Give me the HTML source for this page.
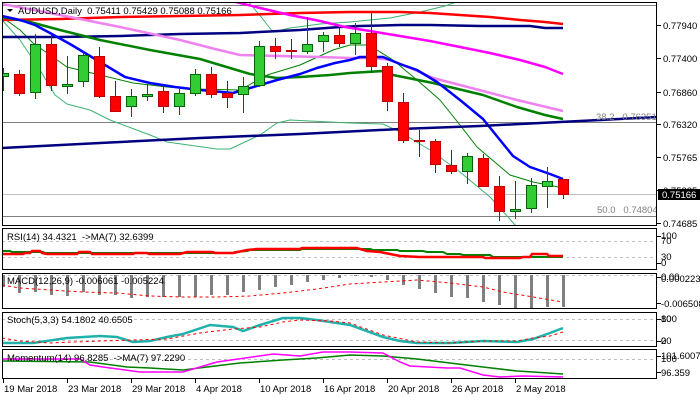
<!DOCTYPE html>
<html><head><meta charset="utf-8"><style>
html,body{margin:0;padding:0;background:#fff;}
svg{display:block;}
text{font-family:"Liberation Sans",sans-serif;font-size:9.5px;}
</style></head><body>
<svg width="700" height="400" viewBox="0 0 700 400" xmlns="http://www.w3.org/2000/svg">
<defs>
<clipPath id="cm"><rect x="2" y="2" width="655" height="224"/></clipPath>
<clipPath id="cr"><rect x="2" y="228" width="655" height="42"/></clipPath>
<clipPath id="cd"><rect x="2" y="273" width="655" height="36"/></clipPath>
<clipPath id="cs"><rect x="2" y="312" width="655" height="35"/></clipPath>
<clipPath id="co"><rect x="2" y="349" width="655" height="30"/></clipPath>
</defs>
<rect width="700" height="400" fill="#fff"/>

<!-- MAIN CHART -->
<g clip-path="url(#cm)">
<g shape-rendering="crispEdges">
<line x1="2" y1="5.5" x2="657" y2="5.5" stroke="#808080"/>
<line x1="2" y1="122.5" x2="657" y2="122.5" stroke="#808080"/>
<line x1="2" y1="194.5" x2="657" y2="194.5" stroke="#C0C0C0"/>
<line x1="2" y1="216.5" x2="657" y2="216.5" stroke="#808080"/>
</g>
<g fill="none" stroke-linejoin="round">
<polyline stroke="#3CB371" stroke-width="1" points="2,20 20,40 40,70 55,95 67,104 90,110 110,120 150,135 167,142 217,149 230,149 260,135 277,123 290,120 350,123 383,124 400,132 430,150 460,172 490,197 517,227"/>
<polyline stroke="#3CB371" stroke-width="1" points="247,0 262,18 273,32 290,28 320,24 350,22 390,18 420,12 445,6 462,0"/>
<polyline stroke="#008000" stroke-width="1" points="2,17 20,30 33,43 67,67 100,75 133,83 167,87 193,89 240,90 267,75 300,65 333,50 350,45 370,45 377,50 393,60 417,80 440,100 460,125 477,147 490,158 510,175 533,182 563,188"/>
<polyline stroke="#FF0000" stroke-width="2.5" points="2,20 60,19 120,17 180,16 240,15 300,13 350,12 400,12 430,13 460,15 490,17 520,20 545,22 563,24"/>
<polyline stroke="#000080" stroke-width="2.5" points="2,37 60,37 120,36 180,34 240,33 300,30 340,27 360,26 400,25 430,25 480,26 530,26 545,28 563,28"/>
<polyline stroke="#FF00FF" stroke-width="2.5" points="228,0 260,8 290,15 320,21 345,27 370,31 400,36 430,41 460,47 490,53 520,60 545,67 563,74"/>
<polyline stroke="#EE82EE" stroke-width="2.5" points="2,4 60,15 120,27 180,40 215,49 240,55 280,56 320,57 350,58 375,58 390,60 400,64 415,70 433,78 460,85 483,91 517,100 563,111"/>
<polyline stroke="#008000" stroke-width="2.5" points="2,17 30,22 60,30 100,40 150,50 200,59 230,68 250,74 277,78 300,77 330,75 350,73 383,71 393,75 433,83 483,95 517,107 545,115 563,119"/>
<polyline stroke="#0000FF" stroke-width="2.5" points="2,16 20,20 35,25 50,33 70,44 90,56 105,65 125,77 150,83 175,87 200,90 233,93 250,88 277,80 300,74 317,68 335,63 350,60 360,57 383,57 400,64 417,70 437,82 460,100 483,119 500,140 513,156 530,167 550,174 563,179"/>
<polyline stroke="#000080" stroke-width="2.5" points="2,148 100,143 200,138 300,134 400,129 480,126 540,123 600,120 657,117"/>
</g>

<g stroke="#006400" stroke-width="1" shape-rendering="crispEdges">
<line x1="3.5" y1="68" x2="3.5" y2="91"/>
<line x1="35.5" y1="34" x2="35.5" y2="99"/>
<line x1="67.5" y1="56" x2="67.5" y2="94"/>
<line x1="83.5" y1="51" x2="83.5" y2="87"/>
<line x1="131.5" y1="89" x2="131.5" y2="117"/>
<line x1="147.5" y1="84" x2="147.5" y2="101"/>
<line x1="179.5" y1="89" x2="179.5" y2="115"/>
<line x1="195.5" y1="69" x2="195.5" y2="96"/>
<line x1="243.5" y1="77" x2="243.5" y2="113"/>
<line x1="259.5" y1="41" x2="259.5" y2="87"/>
<line x1="307.5" y1="17" x2="307.5" y2="54"/>
<line x1="323.5" y1="32" x2="323.5" y2="52"/>
<line x1="355.5" y1="23" x2="355.5" y2="55"/>
<line x1="467.5" y1="153" x2="467.5" y2="184"/>
<line x1="515.5" y1="181" x2="515.5" y2="219"/>
<line x1="531.5" y1="178" x2="531.5" y2="213"/>
<line x1="547.5" y1="167" x2="547.5" y2="208"/>
</g>
<g stroke="#A00000" stroke-width="1" shape-rendering="crispEdges">
<line x1="19.5" y1="70" x2="19.5" y2="96"/>
<line x1="51.5" y1="34" x2="51.5" y2="91"/>
<line x1="99.5" y1="47" x2="99.5" y2="98"/>
<line x1="115.5" y1="81" x2="115.5" y2="112"/>
<line x1="163.5" y1="86" x2="163.5" y2="113"/>
<line x1="211.5" y1="67" x2="211.5" y2="98"/>
<line x1="227.5" y1="81" x2="227.5" y2="108"/>
<line x1="275.5" y1="38" x2="275.5" y2="59"/>
<line x1="291.5" y1="39" x2="291.5" y2="59"/>
<line x1="339.5" y1="27" x2="339.5" y2="47"/>
<line x1="371.5" y1="13" x2="371.5" y2="72"/>
<line x1="387.5" y1="63" x2="387.5" y2="111"/>
<line x1="403.5" y1="93" x2="403.5" y2="143"/>
<line x1="419.5" y1="130" x2="419.5" y2="157"/>
<line x1="435.5" y1="139" x2="435.5" y2="173"/>
<line x1="451.5" y1="150" x2="451.5" y2="174"/>
<line x1="483.5" y1="154" x2="483.5" y2="187"/>
<line x1="499.5" y1="176" x2="499.5" y2="221"/>
<line x1="563.5" y1="179" x2="563.5" y2="199"/>
</g>
<g fill="#32CD32" stroke="#006400" stroke-width="1" shape-rendering="crispEdges">
<rect x="-1.5" y="73.5" width="10" height="3"/>
<rect x="30.5" y="44.5" width="10" height="48"/>
<rect x="62.5" y="84.5" width="10" height="2"/>
<rect x="78.5" y="55.5" width="10" height="26"/>
<rect x="126.5" y="96.5" width="10" height="10"/>
<rect x="142.5" y="94.5" width="10" height="2"/>
<rect x="174.5" y="93.5" width="10" height="13"/>
<rect x="190.5" y="74.5" width="10" height="19"/>
<rect x="238.5" y="86.5" width="10" height="8"/>
<rect x="254.5" y="46.5" width="10" height="39"/>
<rect x="302.5" y="44.5" width="10" height="7"/>
<rect x="318.5" y="35.5" width="10" height="6"/>
<rect x="350.5" y="33.5" width="10" height="10"/>
<rect x="462.5" y="156.5" width="10" height="15"/>
<rect x="510.5" y="209.5" width="10" height="2"/>
<rect x="526.5" y="185.5" width="10" height="23"/>
<rect x="542.5" y="181.5" width="10" height="5"/>
</g>
<g fill="#FF0000" stroke="#C00000" stroke-width="1" shape-rendering="crispEdges">
<rect x="14.5" y="74.5" width="10" height="19"/>
<rect x="46.5" y="44.5" width="10" height="41"/>
<rect x="94.5" y="56.5" width="10" height="40"/>
<rect x="110.5" y="96.5" width="10" height="15"/>
<rect x="158.5" y="91.5" width="10" height="15"/>
<rect x="206.5" y="74.5" width="10" height="20"/>
<rect x="222.5" y="93.5" width="10" height="4"/>
<rect x="270.5" y="46.5" width="10" height="5"/>
<rect x="286.5" y="50.5" width="10" height="1"/>
<rect x="334.5" y="35.5" width="10" height="8"/>
<rect x="366.5" y="33.5" width="10" height="33"/>
<rect x="382.5" y="66.5" width="10" height="35"/>
<rect x="398.5" y="102.5" width="10" height="38"/>
<rect x="414.5" y="140.5" width="10" height="1"/>
<rect x="430.5" y="141.5" width="10" height="23"/>
<rect x="446.5" y="165.5" width="10" height="6"/>
<rect x="478.5" y="158.5" width="10" height="28"/>
<rect x="494.5" y="186.5" width="10" height="25"/>
<rect x="558.5" y="179.5" width="10" height="15"/>
</g>

<text x="596" y="3" fill="#808080">23.6&#160;&#160;&#160;0.77984</text>
<text x="596" y="120" fill="#808080">38.2&#160;&#160;&#160;0.76351</text>
<text x="597" y="213" fill="#808080">50.0&#160;&#160;&#160;0.74804</text>
<polygon points="7,9 13,9 10,12" fill="#000"/>
<text x="18" y="14" fill="#000">AUDUSD,Daily&#160;&#160;0.75411 0.75429 0.75088 0.75166</text>
</g>

<!-- RSI -->
<g clip-path="url(#cr)">
<g stroke="#C0C0C0" stroke-dasharray="3,3" shape-rendering="crispEdges">
<line x1="2" y1="241.5" x2="657" y2="241.5"/>
<line x1="2" y1="257.5" x2="657" y2="257.5"/>
</g>
<polyline fill="none" stroke="#008000" stroke-width="2" points="2,251 10,251 12,252 43,252 45,253 133,253 180,253 233,253 235,252 247,251 250,250 300,250 302,249 370,249 373,250 397,250 400,251 423,251 427,252 443,252 447,254 460,254 463,255 490,255 493,257 563,257"/>
<polyline fill="none" stroke="#FF0000" stroke-width="2.5" points="2,254 23,254 25,253 30,253 32,251 40,251 42,253 47,254 77,254 79,252 90,252 92,254 133,254 135,253 147,253 149,254 180,254 187,252 213,252 215,253 233,253 247,250 257,249 300,249 302,248 357,248 360,249 367,251 380,252 390,254 400,256 420,257 483,257 485,258 520,258 523,257 530,257 532,254 547,254 549,256 563,256"/>
<text x="7" y="240" fill="#000">RSI(14) 34.4321&#160;&#160;-&gt;MA(7) 32.6399</text>
</g>

<!-- MACD -->
<g clip-path="url(#cd)">
<line x1="2" y1="275.5" x2="657" y2="275.5" stroke="#C0C0C0" stroke-dasharray="3,3" shape-rendering="crispEdges"/>
<g fill="#808080" shape-rendering="crispEdges">
<rect x="2" y="275" width="3" height="12"/>
<rect x="18" y="275" width="3" height="18"/>
<rect x="34" y="275" width="3" height="17"/>
<rect x="50" y="275" width="3" height="20"/>
<rect x="66" y="275" width="3" height="21"/>
<rect x="82" y="275" width="3" height="17"/>
<rect x="98" y="275" width="3" height="20"/>
<rect x="114" y="275" width="3" height="20"/>
<rect x="130" y="275" width="3" height="23"/>
<rect x="146" y="275" width="3" height="22"/>
<rect x="162" y="275" width="3" height="22"/>
<rect x="178" y="275" width="3" height="22"/>
<rect x="194" y="275" width="3" height="22"/>
<rect x="210" y="275" width="3" height="20"/>
<rect x="226" y="275" width="3" height="20"/>
<rect x="242" y="275" width="3" height="17"/>
<rect x="258" y="275" width="3" height="15"/>
<rect x="274" y="275" width="3" height="12"/>
<rect x="290" y="275" width="3" height="10"/>
<rect x="306" y="275" width="3" height="7"/>
<rect x="322" y="275" width="3" height="5"/>
<rect x="338" y="275" width="3" height="3"/>
<rect x="354" y="275" width="3" height="1"/>
<rect x="370" y="275" width="3" height="2"/>
<rect x="386" y="275" width="3" height="5"/>
<rect x="402" y="275" width="3" height="10"/>
<rect x="418" y="275" width="3" height="14"/>
<rect x="434" y="275" width="3" height="18"/>
<rect x="450" y="275" width="3" height="22"/>
<rect x="466" y="275" width="3" height="23"/>
<rect x="482" y="275" width="3" height="27"/>
<rect x="498" y="275" width="3" height="30"/>
<rect x="514" y="275" width="3" height="33"/>
<rect x="530" y="275" width="3" height="33"/>
<rect x="546" y="275" width="3" height="32"/>
<rect x="562" y="275" width="3" height="32"/>
</g>
<polyline fill="none" stroke="#FF0000" stroke-width="1" stroke-dasharray="3,3" points="2,285 20,288 50,290 83,292 117,293 150,296 183,297 217,297 250,296 283,293 317,289 350,284 383,282 417,280 450,283 483,287 503,292 533,297 563,302"/>
<text x="7" y="284" fill="#000">MACD(12,26,9) -0.006061 -0.005224</text>
</g>

<!-- Stoch -->
<g clip-path="url(#cs)">
<g stroke="#C0C0C0" stroke-dasharray="3,3" shape-rendering="crispEdges">
<line x1="2" y1="319.5" x2="657" y2="319.5"/>
<line x1="2" y1="340.5" x2="657" y2="340.5"/>
</g>
<polyline fill="none" stroke="#20B2AA" stroke-width="2.5" points="2,343 33,343 67,338 100,336 117,337 133,342 150,341 167,337 183,334 210,325 233,327 243,331 260,325 283,318 300,318 317,320 350,325 383,337 400,341 417,343 450,343 483,341 517,342 533,339 550,333 563,328"/>
<polyline fill="none" stroke="#FF0000" stroke-width="1" stroke-dasharray="3,3" points="2,338 20,341 50,343 100,341 167,339 200,333 233,329 260,327 283,322 300,320 330,321 350,323 383,335 417,342 450,343 483,341 517,341 533,338 550,336 563,332"/>
<text x="7" y="323" fill="#000">Stoch(5,3,3) 54.1802 40.6505</text>
</g>

<!-- Momentum -->
<g clip-path="url(#co)">
<line x1="2" y1="359.5" x2="657" y2="359.5" stroke="#C0C0C0" stroke-dasharray="3,3" shape-rendering="crispEdges"/>
<polyline fill="none" stroke="#008000" stroke-width="1.5" points="2,361 90,362 127,367 150,368 183,370 207,367 240,363 283,360 317,358 350,355 383,356 417,359 450,363 483,367 517,371 533,372 563,374"/>
<polyline fill="none" stroke="#FF00FF" stroke-width="1.5" points="2,359 80,359 90,365 103,367 140,372 183,372 200,367 217,362 273,354 300,356 323,352 350,352 383,353 400,362 410,366 447,368 460,368 483,375 500,377 523,376 563,377"/>
<text x="7" y="361" fill="#000">Momentum(14) 96.8285&#160;&#160;-&gt;MA(7) 97.2290</text>
</g>

<!-- panel borders -->
<g fill="none" stroke="#000" stroke-width="1" shape-rendering="crispEdges">
<rect x="2.5" y="2.5" width="654" height="223"/>
<rect x="2.5" y="228.5" width="654" height="41"/>
<rect x="2.5" y="273.5" width="654" height="35"/>
<rect x="2.5" y="312.5" width="654" height="34"/>
<rect x="2.5" y="349.5" width="654" height="29"/>
</g>

<g stroke="#000" shape-rendering="crispEdges">
<line x1="657" y1="25.5" x2="661" y2="25.5"/>
<line x1="657" y1="58.5" x2="661" y2="58.5"/>
<line x1="657" y1="92.5" x2="661" y2="92.5"/>
<line x1="657" y1="124.5" x2="661" y2="124.5"/>
<line x1="657" y1="157.5" x2="661" y2="157.5"/>
<line x1="657" y1="190.5" x2="661" y2="190.5"/>
<line x1="657" y1="223.5" x2="661" y2="223.5"/>
<line x1="657" y1="236.5" x2="661" y2="236.5"/>
<line x1="657" y1="263.5" x2="661" y2="263.5"/>
<line x1="657" y1="277.5" x2="661" y2="277.5"/>
<line x1="657" y1="303.5" x2="661" y2="303.5"/>
<line x1="657" y1="319.5" x2="661" y2="319.5"/>
<line x1="657" y1="341.5" x2="661" y2="341.5"/>
<line x1="657" y1="356.5" x2="661" y2="356.5"/>
<line x1="657" y1="372.5" x2="661" y2="372.5"/>
</g>
<g fill="#000">
<text x="663" y="29">0.77940</text>
<text x="663" y="62">0.77400</text>
<text x="663" y="96">0.76860</text>
<text x="663" y="128">0.76320</text>
<text x="663" y="161">0.75765</text>
<text x="663" y="194">0.75225</text>
<text x="663" y="227">0.74685</text>
<text x="661" y="239">100</text>
<text x="661" y="244">70</text>
<text x="661" y="260">30</text>
<text x="661" y="266">0</text>
<text x="661" y="280">0.00</text>
<text x="661" y="282">0.000223</text>
<text x="661" y="307">-0.006508</text>
<text x="661" y="322">100</text>
<text x="661" y="322">80</text>
<text x="661" y="344">20</text>
<text x="661" y="344">0</text>
<text x="661" y="359">101.6007</text>
<text x="661" y="362">100</text>
<text x="661" y="376">96.359</text>
</g>
<rect x="658" y="189" width="42" height="11" fill="#000"/>
<text x="662" y="198" fill="#fff">0.75166</text>

<g stroke="#000" shape-rendering="crispEdges">
<line x1="3.5" y1="379" x2="3.5" y2="383"/>
<line x1="67.5" y1="379" x2="67.5" y2="383"/>
<line x1="131.5" y1="379" x2="131.5" y2="383"/>
<line x1="195.5" y1="379" x2="195.5" y2="383"/>
<line x1="259.5" y1="379" x2="259.5" y2="383"/>
<line x1="323.5" y1="379" x2="323.5" y2="383"/>
<line x1="387.5" y1="379" x2="387.5" y2="383"/>
<line x1="451.5" y1="379" x2="451.5" y2="383"/>
<line x1="515.5" y1="379" x2="515.5" y2="383"/>
</g>
<g fill="#000">
<text x="4" y="392">19 Mar 2018</text>
<text x="68" y="392">23 Mar 2018</text>
<text x="132" y="392">29 Mar 2018</text>
<text x="196" y="392">4 Apr 2018</text>
<text x="260" y="392">10 Apr 2018</text>
<text x="324" y="392">16 Apr 2018</text>
<text x="388" y="392">20 Apr 2018</text>
<text x="452" y="392">26 Apr 2018</text>
<text x="516" y="392">2 May 2018</text>
</g>
</svg>
</body></html>
